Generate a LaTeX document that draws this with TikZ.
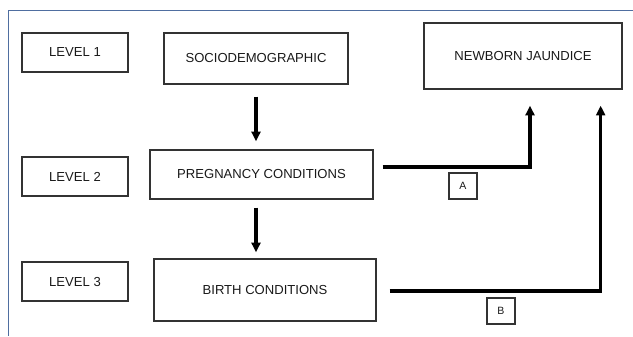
\documentclass[tikz,border=0pt]{standalone}
\usepackage{fontspec}
\setmainfont{Liberation Sans}
\usetikzlibrary{arrows.meta}
\definecolor{framecol}{RGB}{79,110,160}

\begin{document}
\begin{tikzpicture}[
  box/.style={draw=black!80, line width=0.95pt, align=center, text=black!90,
              font=\fontsize{9.3}{11}\selectfont, inner sep=0pt},
  tag/.style={box, minimum width=0.7cm, minimum height=0.65cm,
              font=\fontsize{7.5}{9}\selectfont},
  arr/.style={line width=2.3pt, -{Triangle[length=0.24cm, width=0.22cm]}},
]

\useasboundingbox (0,0) rectangle (15.825,8.4);

% Outer frame (only top and left edges are in view)
\draw[framecol, line width=0.6pt] (15.825,8.15) -- (0.2,8.15) -- (0.2,0);

% Level labels
\node[box, minimum width=2.65cm, minimum height=0.975cm] (lv1) at (1.875,7.0875) {LEVEL 1};
\node[box, minimum width=2.65cm, minimum height=0.975cm] (lv2) at (1.875,3.9875) {LEVEL 2};
\node[box, minimum width=2.65cm, minimum height=0.975cm] (lv3) at (1.875,1.3625) {LEVEL 3};

% Main boxes
\node[box, minimum width=4.6cm, minimum height=1.275cm] (socio) at (6.4,6.9375) {SOCIODEMOGRAPHIC};
\node[box, minimum width=5.575cm, minimum height=1.225cm] (preg) at (6.5375,4.0375) {PREGNANCY CONDITIONS};
\node[box, minimum width=5.55cm, minimum height=1.55cm] (birth) at (6.625,1.15) {BIRTH CONDITIONS};
\node[box, minimum width=4.95cm, minimum height=1.65cm] (nj) at (13.075,7.0) {NEWBORN JAUNDICE};

% Path tags
\node[tag] (tagA) at (11.575,3.75) {A};
\node[tag] (tagB) at (12.525,0.625) {B};

% Vertical arrows
\draw[arr, shorten <=0.3cm, shorten >=0.2cm] (socio.south) -- (socio.south |- preg.north);
\draw[arr, shorten <=0.2cm, shorten >=0.15cm] (socio.south |- preg.south) -- (socio.south |- birth.north);

% Paths to the outcome
\draw[arr, shorten >=0.4cm] ([xshift=0.225cm, yshift=0.19cm]preg.east) -| ([xshift=0.175cm]nj.south);
\draw[arr, shorten >=0.4cm] ([xshift=0.325cm, yshift=-0.025cm]birth.east) -| ([xshift=-0.55cm]nj.south east);

\end{tikzpicture}
\end{document}
